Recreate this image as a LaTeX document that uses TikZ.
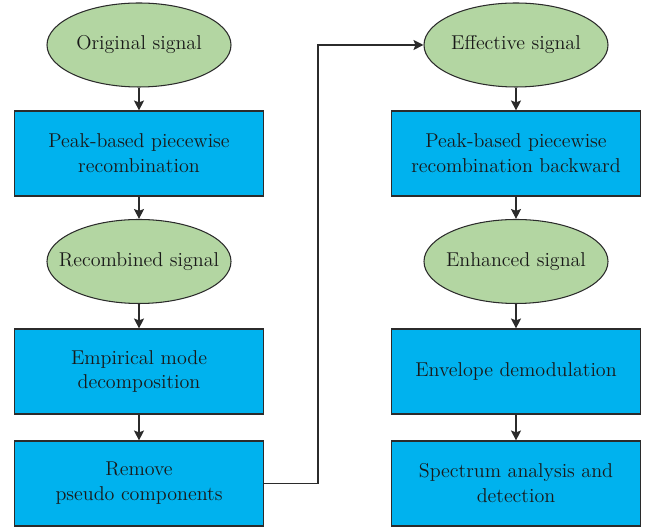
\documentclass[tikz,border=0pt]{standalone}
\usepackage[dvipsnames, table]{xcolor}
\usepackage{tikz}
\usetikzlibrary{arrows.meta, shapes.geometric}
\definecolor{sigfill}{HTML}{B3D6A2}
\definecolor{boxfill}{HTML}{00B2EE}
\definecolor{edge}{HTML}{2B2B2B}
\newcommand{\sigtext}[1]{\makebox[0pt]{#1}}

\begin{document}
\begin{tikzpicture}[
    font=\fontsize{11.4}{14.2}\selectfont,
    sig/.style={ellipse, draw=edge, line width=0.6pt, fill=sigfill, minimum width=3.68cm, minimum height=1.68cm, inner sep=0pt, text=black!90},
    stage/.style={rectangle, draw=edge, line width=0.6pt, fill=boxfill, minimum width=4.98cm, minimum height=1.7cm, align=center, inner sep=0pt, text=black!90},
    >={Stealth[length=2mm, width=2mm, inset=0.4mm]}
  ]
    \useasboundingbox (0, 0) rectangle (12.98, 10.54);
    \node[sig] (orig) at (2.78, 9.64){\sigtext{Original signal}};
    \node[stage] (pbr) at (2.78, 7.47){Peak-based piecewise\\recombination};
    \node[sig] (recomb) at (2.78, 5.31){\sigtext{Recombined signal}};
    \node[stage] (emd) at (2.78, 3.11){Empirical mode\\decomposition};
    \node[stage] (remove) at (2.78, 0.87){Remove\\pseudo components};
    \node[sig] (eff) at (10.32, 9.64){\sigtext{Effective signal}};
    \node[stage] (pbrb) at (10.32, 7.47){Peak-based piecewise\\recombination backward};
    \node[sig] (enh) at (10.32, 5.31){\sigtext{Enhanced signal}};
    \node[stage] (env) at (10.32, 3.11){Envelope demodulation};
    \node[stage] (spec) at (10.32, 0.87){Spectrum analysis and\\detection};
    \coordinate (turn) at (6.36, 0.87);
    \draw[->, edge, line width=0.6pt] (orig)--(pbr);
    \draw[->, edge, line width=0.6pt] (pbr)--(recomb);
    \draw[->, edge, line width=0.6pt] (recomb)--(emd);
    \draw[->, edge, line width=0.6pt] (emd)--(remove);
    \draw[->, edge, line width=0.6pt] (remove.east)--(turn) |- (eff.west);
    \draw[->, edge, line width=0.6pt] (eff)--(pbrb);
    \draw[->, edge, line width=0.6pt] (pbrb)--(enh);
    \draw[->, edge, line width=0.6pt] (enh)--(env);
    \draw[->, edge, line width=0.6pt] (env)--(spec);
  \end{tikzpicture}
\end{document}
